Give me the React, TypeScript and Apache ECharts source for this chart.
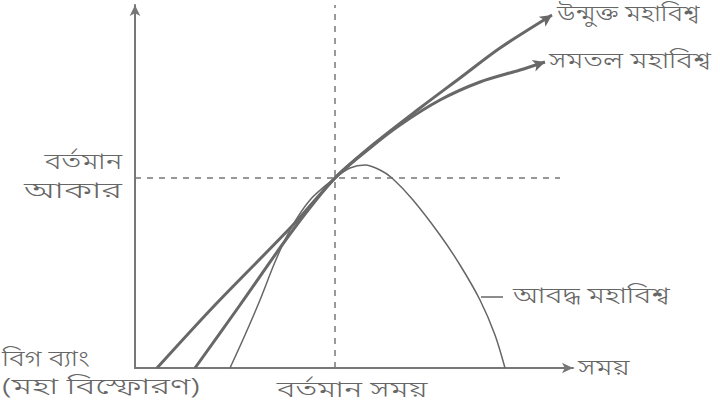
import React, { useEffect, useRef } from "react";
import * as echarts from "echarts";

// Data coordinates: x = time (0..438), y = size (0..363)
const openUniverse: [number, number][] = [
  [22, 0], [80, 63], [158, 143], [200, 190], [240, 225], [285, 260], [325, 290], [365, 320], [417, 353],
];
const flatUniverse: [number, number][] = [
  [60, 0], [105, 63], [158, 138], [200, 190], [235, 220], [265, 243], [305, 268], [345, 286], [385, 298], [410, 306],
];
const closedUniverse: [number, number][] = [
  [95, 0], [110, 33], [125, 68], [140, 106], [155, 138], [175, 168], [200, 190], [215, 200], [230, 203],
  [245, 198], [257, 190], [278, 168], [305, 133], [325, 103], [345, 68], [360, 33], [370, 0],
];
const presentTime = 200;
const presentSize = 190;
const vLineTop = 363;
const hLineEnd = 425;

const labels = {
  open: "উন্মুক্ত মহাবিশ্ব",
  flat: "সমতল মহাবিশ্ব",
  closed: "আবদ্ধ মহাবিশ্ব",
  time: "সময়",
  presentTime: "বর্তমান সময়",
  presentSize1: "বর্তমান",
  presentSize2: "আকার",
  bigBang1: "বিগ ব্যাং",
  bigBang2: "(মহা বিস্ফোরণ)",
};

const FONT = "'Noto Sans Bengali', 'Noto Sans', 'Lohit Bengali', sans-serif";
const TXT = "#666";
const LINE = "#686868";

function withArrow(data: [number, number][], rot: number) {
  return data.map((d, i) =>
    i === data.length - 1
      ? { value: d, symbol: "arrow", symbolSize: [9, 12], symbolRotate: rot }
      : { value: d, symbol: "none" }
  );
}

export default function App() {
  const ref = useRef<HTMLDivElement>(null);
  useEffect(() => {
    if (!ref.current) return;
    const chart = echarts.init(ref.current, undefined, { renderer: "svg" });
    const label = (t: string, x: number, y: number, sx: number, align = "left") => ({
      type: "text",
      x,
      y,
      scaleX: sx * 0.955,
      style: {
        text: t,
        fill: TXT,
        font: `300 22px ${FONT}`,
        align,
        verticalAlign: "middle",
      },
    });
    chart.setOption({
      animation: false,
      backgroundColor: "#fff",
      grid: { left: 135, top: 5, width: 438, height: 363 },
      xAxis: {
        type: "value",
        min: 0,
        max: 438,
        axisLine: { show: true, symbol: ["none", "arrow"], symbolSize: [8, 11], lineStyle: { color: "#777", width: 2 } },
        axisTick: { show: false },
        axisLabel: { show: false },
        splitLine: { show: false },
      },
      yAxis: {
        type: "value",
        min: 0,
        max: 363,
        axisLine: { show: true, symbol: ["none", "arrow"], symbolSize: [8, 11], lineStyle: { color: "#777", width: 2 } },
        axisTick: { show: false },
        axisLabel: { show: false },
        splitLine: { show: false },
      },
      series: [
        {
          type: "line",
          data: [[presentTime, 0], [presentTime, vLineTop]],
          symbol: "none",
          lineStyle: { color: "#777", width: 1.5, type: [6, 6] },
          z: 1,
        },
        {
          type: "line",
          data: [[0, presentSize], [hLineEnd, presentSize]],
          symbol: "none",
          lineStyle: { color: "#777", width: 1.5, type: [6, 6] },
          z: 1,
        },
        {
          type: "line",
          data: withArrow(openUniverse, -56),
          smooth: 0.3,
          itemStyle: { color: LINE },
          lineStyle: { color: LINE, width: 3 },
          z: 3,
        },
        {
          type: "line",
          data: withArrow(flatUniverse, -72),
          smooth: 0.3,
          itemStyle: { color: LINE },
          lineStyle: { color: LINE, width: 3 },
          z: 3,
        },
        {
          type: "line",
          data: closedUniverse,
          smooth: 0.3,
          symbol: "none",
          lineStyle: { color: "#666", width: 1.5 },
          z: 2,
        },
      ],
      graphic: [
        label(labels.open, 557, 16, 1.25),
        label(labels.flat, 549, 62, 1.35),
        { type: "line", shape: { x1: 481, y1: 297, x2: 503, y2: 297 }, style: { stroke: "#666", lineWidth: 1.5 } },
        label(labels.closed, 513, 297, 1.38),
        label(labels.time, 578, 369, 1.35),
        label(labels.presentTime, 352, 391, 1.5, "center"),
        label(labels.presentSize1, 122, 163, 1.36, "right"),
        label(labels.presentSize2, 122, 192, 1.7, "right"),
        label(labels.bigBang1, 2, 360, 1.29),
        label(labels.bigBang2, 2, 389, 1.62),
      ],
    });
    return () => chart.dispose();
  }, []);
  return <div ref={ref} style={{ width: 720, height: 407, position: "fixed", left: 0, top: 0 }} />;
}
